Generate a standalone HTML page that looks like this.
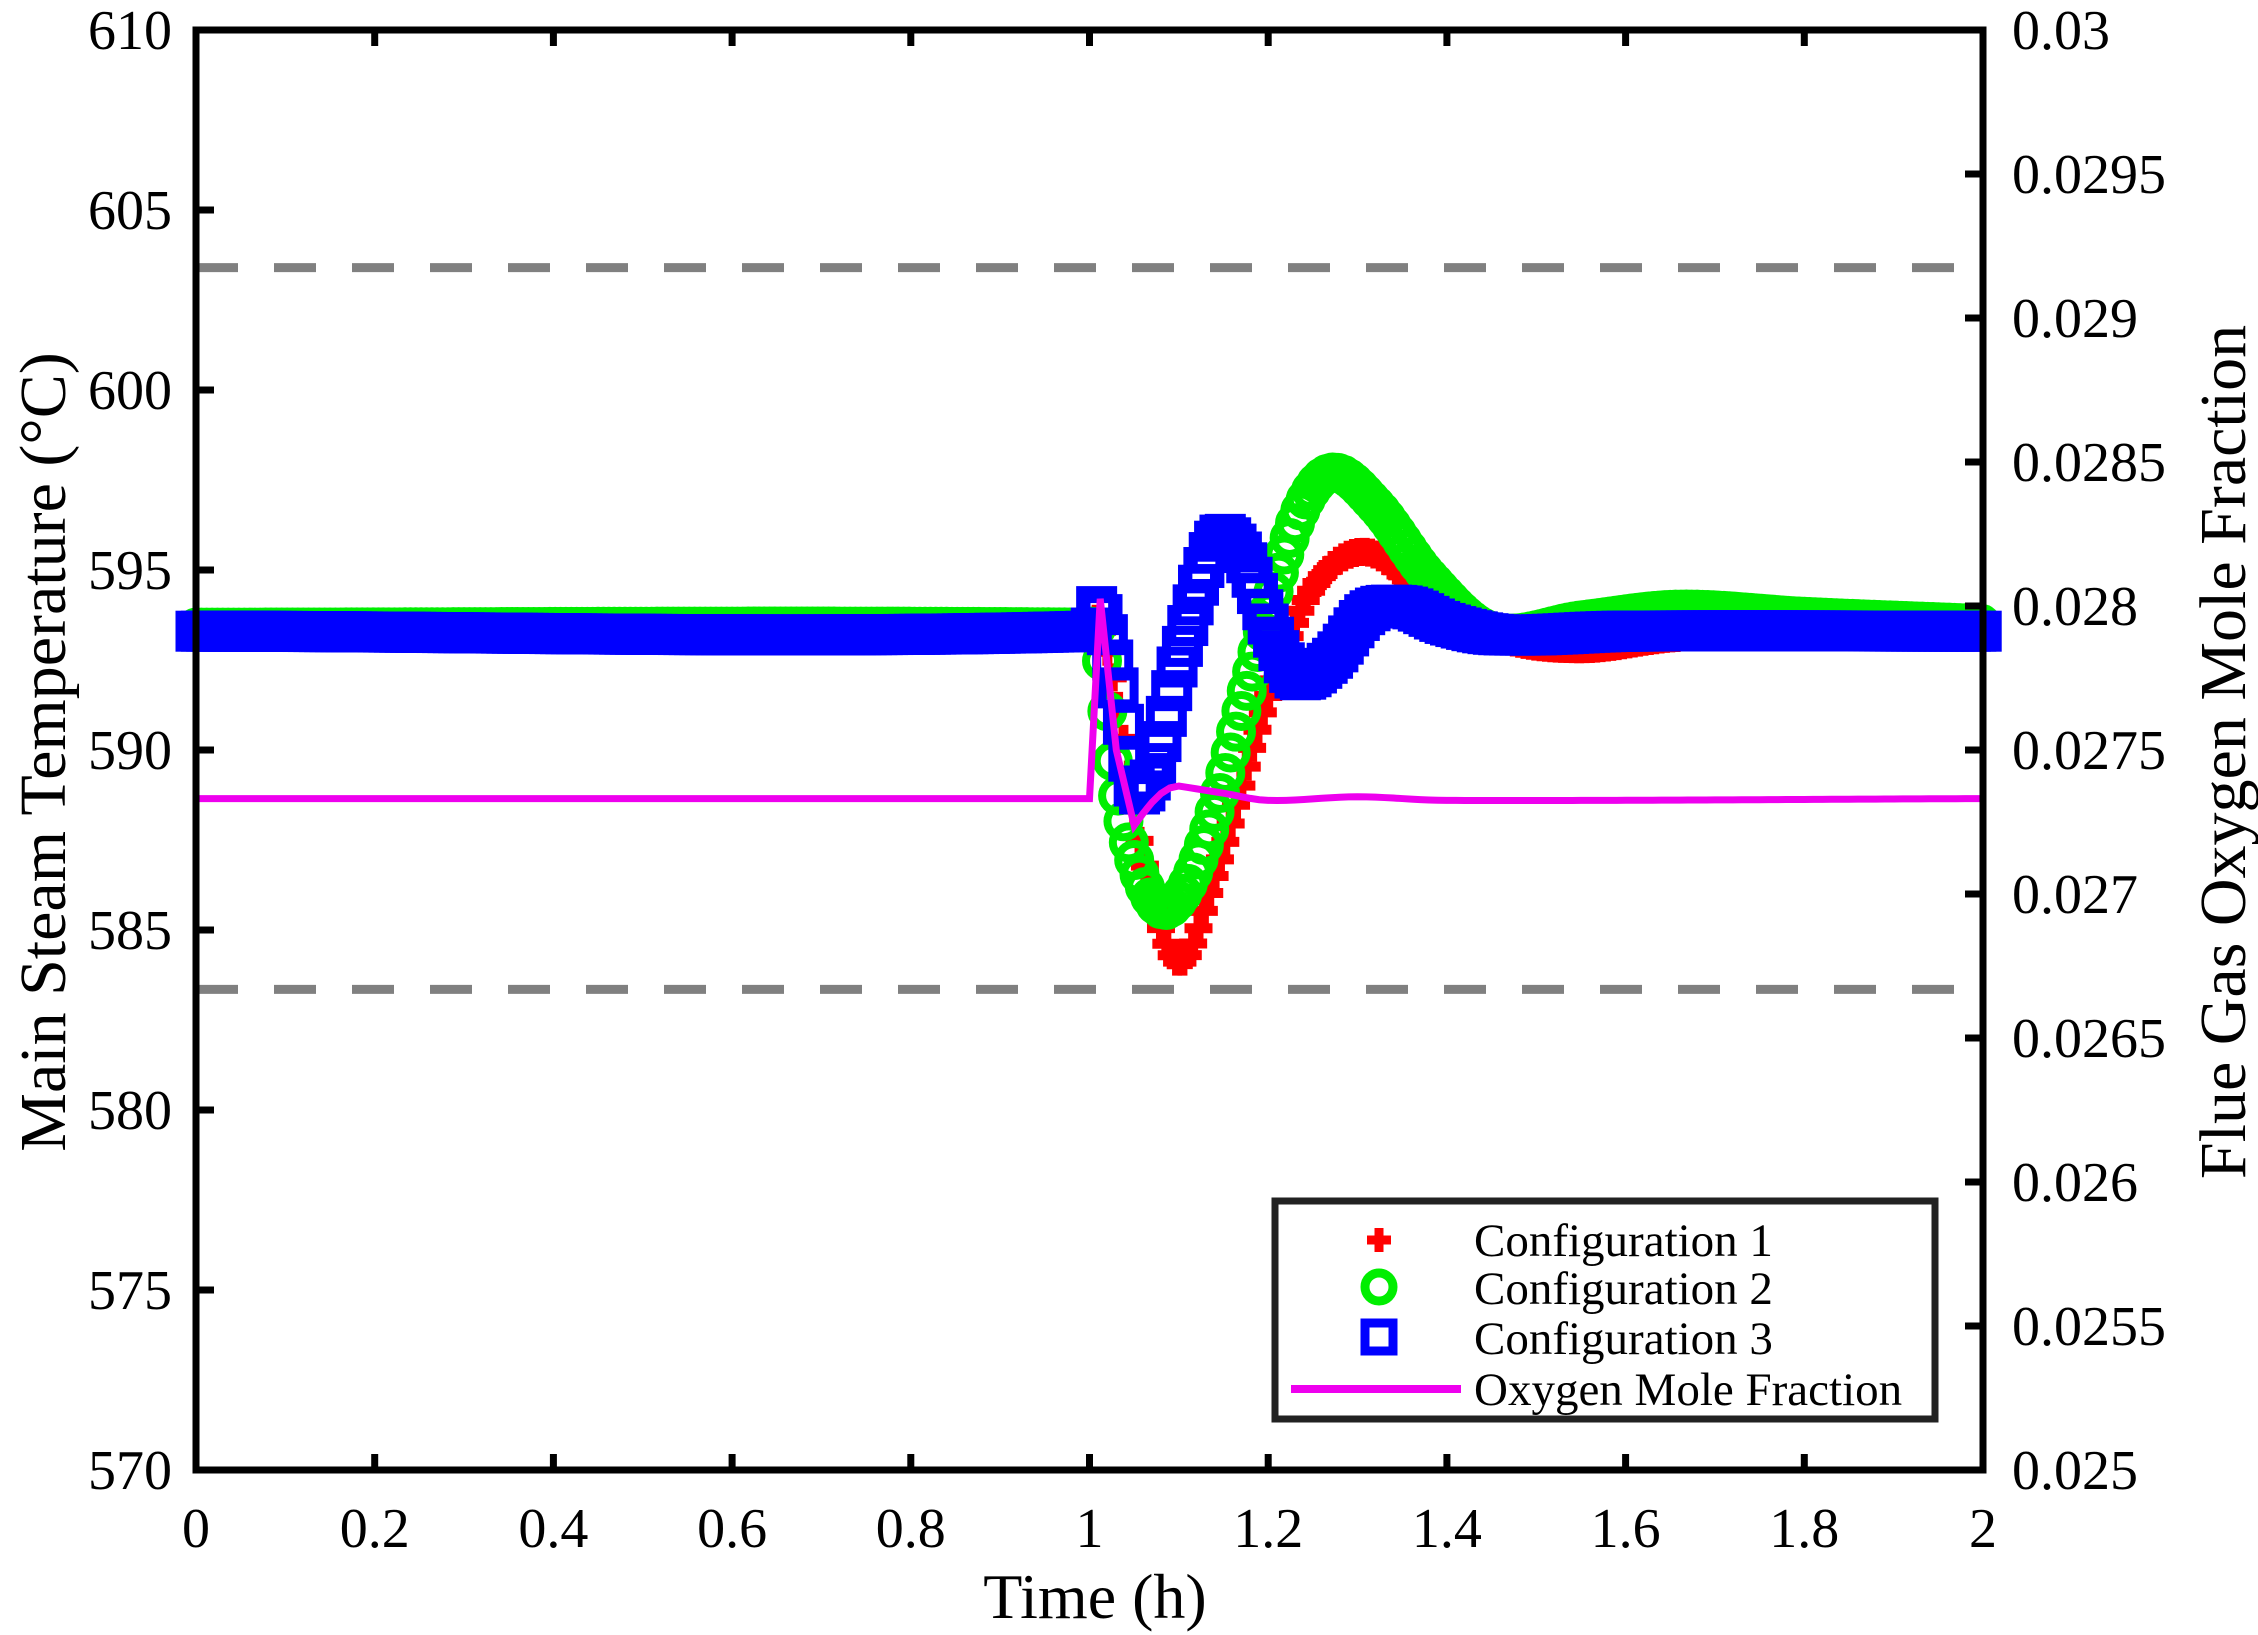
<!DOCTYPE html>
<html><head><meta charset="utf-8"><style>
html,body{margin:0;padding:0;background:#fff;}
svg{display:block;}
text{font-family:"Liberation Serif",serif;fill:#000;}
</style></head><body>
<svg id="s" width="2258" height="1635" viewBox="0 0 2258 1635" xmlns="http://www.w3.org/2000/svg">
<rect width="2258" height="1635" fill="#fff"/>
<g id="plot"></g>
<g id="axes"></g>
</svg>
<script>
const NS="http://www.w3.org/2000/svg";
const X0=196,X1=1983,Y0=30,Y1=1470;
const xs=t=>X0+t*(X1-X0)/2;
const ys=v=>Y0+(610-v)*(Y1-Y0)/40;
const plot=document.getElementById('plot'),axes=document.getElementById('axes');
function el(p,tag,a,txt){const e=document.createElementNS(NS,tag);for(const k in a)e.setAttribute(k,a[k]);if(txt!==undefined)e.textContent=txt;p.appendChild(e);return e;}
function interp(pts){
  return function(t){
    if(t<=pts[0][0])return pts[0][1];
    for(let i=0;i<pts.length-1;i++){
      const [t0,v0]=pts[i],[t1,v1]=pts[i+1];
      if(t<=t1){
        const p0=pts[Math.max(i-1,0)],p3=pts[Math.min(i+2,pts.length-1)];
        const m0=(v1-p0[1])/(t1-p0[0])*(t1-t0), m1=(p3[1]-v0)/(p3[0]-t0)*(t1-t0);
        const s=(t-t0)/(t1-t0),s2=s*s,s3=s2*s;
        return (2*s3-3*s2+1)*v0+(s3-2*s2+s)*m0+(-2*s3+3*s2)*v1+(s3-s2)*m1;
      }
    }
    return pts[pts.length-1][1];
  };
}
el(plot,'line',{x1:X0,x2:X1,y1:ys(603.4),y2:ys(603.4),stroke:'#808080','stroke-width':9,'stroke-dasharray':'42 36'});
el(plot,'line',{x1:X0,x2:X1,y1:ys(583.35),y2:ys(583.35),stroke:'#808080','stroke-width':9,'stroke-dasharray':'42 36'});
const red=interp([[0,593.3],[1.0,593.3],[1.01,593.6],[1.03,591.5],[1.06,587],[1.1,584.1],[1.14,586.5],[1.2,591.5],[1.25,594.5],[1.31,595.5],[1.38,594.2],[1.46,593.1],[1.55,592.8],[1.65,593.1],[1.8,593.3],[2,593.3]]);
const green=interp([[0,593.4],[1.0,593.4],[1.01,593.2],[1.03,589],[1.06,586.3],[1.09,585.6],[1.13,587.5],[1.18,592],[1.23,596.3],[1.27,597.7],[1.32,596.8],[1.38,594.8],[1.45,593.3],[1.55,593.6],[1.66,593.9],[1.8,593.7],[2,593.5]]);
const blue=interp([[0,593.3],[1.0,593.3],[1.01,594],[1.03,592],[1.05,589],[1.07,589.3],[1.1,592.5],[1.14,595.8],[1.17,595.5],[1.2,593.5],[1.23,592],[1.27,592.5],[1.31,593.8],[1.35,594],[1.4,593.5],[1.46,593.2],[1.6,593.3],[2,593.3]]);
function markers(f,type,color){
  for(let t=0;t<=2.0001;t+=0.006){
    const x=xs(t),y=ys(f(t));
    if(type==='plus'){
      el(plot,'path',{d:`M${x-14} ${y}H${x+14}M${x} ${y-14}V${y+14}`,stroke:color,'stroke-width':10,fill:'none'});
    }else if(type==='circ'){
      el(plot,'circle',{cx:x,cy:y,r:16,stroke:color,'stroke-width':8,fill:'none'});
    }else{
      el(plot,'rect',{x:x-16,y:y-16,width:32,height:32,stroke:color,'stroke-width':9,fill:'none'});
    }
  }
}
markers(red,'plus','#ff0000');
markers(green,'circ','#00ee00');
markers(blue,'sq','#0000ff');
const mf=interp([[1.1,589.0],[1.15,588.8],[1.2,588.6],[1.3,588.7],[1.4,588.6],[2,588.65]]);
let d=`M${xs(0)} ${ys(588.65)}L${xs(1.0)} ${ys(588.65)}L${xs(1.012)} ${ys(594.2)}L${xs(1.03)} ${ys(590)}L${xs(1.05)} ${ys(587.9)}`;
for(let t=1.06;t<=2.0001;t+=0.01){const v=t<1.1?587.9+Math.sin((t-1.05)/0.05*Math.PI/2)*1.1:mf(t);d+=`L${xs(t)} ${ys(v)}`;}
el(plot,'path',{d:d,stroke:'#ee00ee','stroke-width':7,fill:'none'});
el(axes,'rect',{x:X0,y:Y0,width:X1-X0,height:Y1-Y0,fill:'none',stroke:'#000','stroke-width':7});
for(let i=0;i<=10;i++){
  const t=i*0.2,x=xs(t);
  el(axes,'line',{x1:x,x2:x,y1:Y1,y2:Y1-16,stroke:'#000','stroke-width':7});
  el(axes,'line',{x1:x,x2:x,y1:Y0,y2:Y0+16,stroke:'#000','stroke-width':7});
  const lab=(i===0?'0':i===5?'1':i===10?'2':t.toFixed(1));
  el(axes,'text',{x:x,y:1547,'font-size':56,'text-anchor':'middle'},lab);
}
for(let i=0;i<=8;i++){
  const v=570+i*5,y=ys(v);
  el(axes,'line',{x1:X0,x2:X0+18,y1:y,y2:y,stroke:'#000','stroke-width':7});
  el(axes,'text',{x:172,y:y+19,'font-size':56,'text-anchor':'end'},String(v));
}
const rl=['0.025','0.0255','0.026','0.0265','0.027','0.0275','0.028','0.0285','0.029','0.0295','0.03'];
for(let i=0;i<=10;i++){
  const y=Y1-i*(Y1-Y0)/10;
  el(axes,'line',{x1:X1,x2:X1-18,y1:y,y2:y,stroke:'#000','stroke-width':7});
  el(axes,'text',{x:2012,y:y+19,'font-size':56},rl[i]);
}
el(axes,'text',{x:1095,y:1618,'font-size':64,'text-anchor':'middle'},'Time (h)');
el(axes,'text',{x:0,y:0,'font-size':66,'text-anchor':'middle',transform:'translate(65,752) rotate(-90)'},'Main Steam Temperature (°C)');
el(axes,'text',{x:0,y:0,'font-size':66,'text-anchor':'middle',transform:'translate(2245,752) rotate(-90)'},'Flue Gas Oxygen Mole Fraction');
el(axes,'rect',{x:1275,y:1201,width:660,height:218,fill:'#fff',stroke:'#222','stroke-width':7});
el(axes,'path',{d:'M1367 1240H1391M1379 1228V1252',stroke:'#ff0000','stroke-width':9});
el(axes,'circle',{cx:1379,cy:1287,r:14,stroke:'#00ee00','stroke-width':9,fill:'none'});
el(axes,'rect',{x:1365,y:1323,width:28,height:28,stroke:'#0000ff','stroke-width':9,fill:'none'});
el(axes,'line',{x1:1291,x2:1461,y1:1389,y2:1389,stroke:'#ee00ee','stroke-width':8});
const lt=['Configuration 1','Configuration 2','Configuration 3','Oxygen Mole Fraction'];
[1256,1304,1354,1405].forEach((y,i)=>el(axes,'text',{x:1474,y:y,'font-size':47},lt[i]));
</script>
</body></html>
